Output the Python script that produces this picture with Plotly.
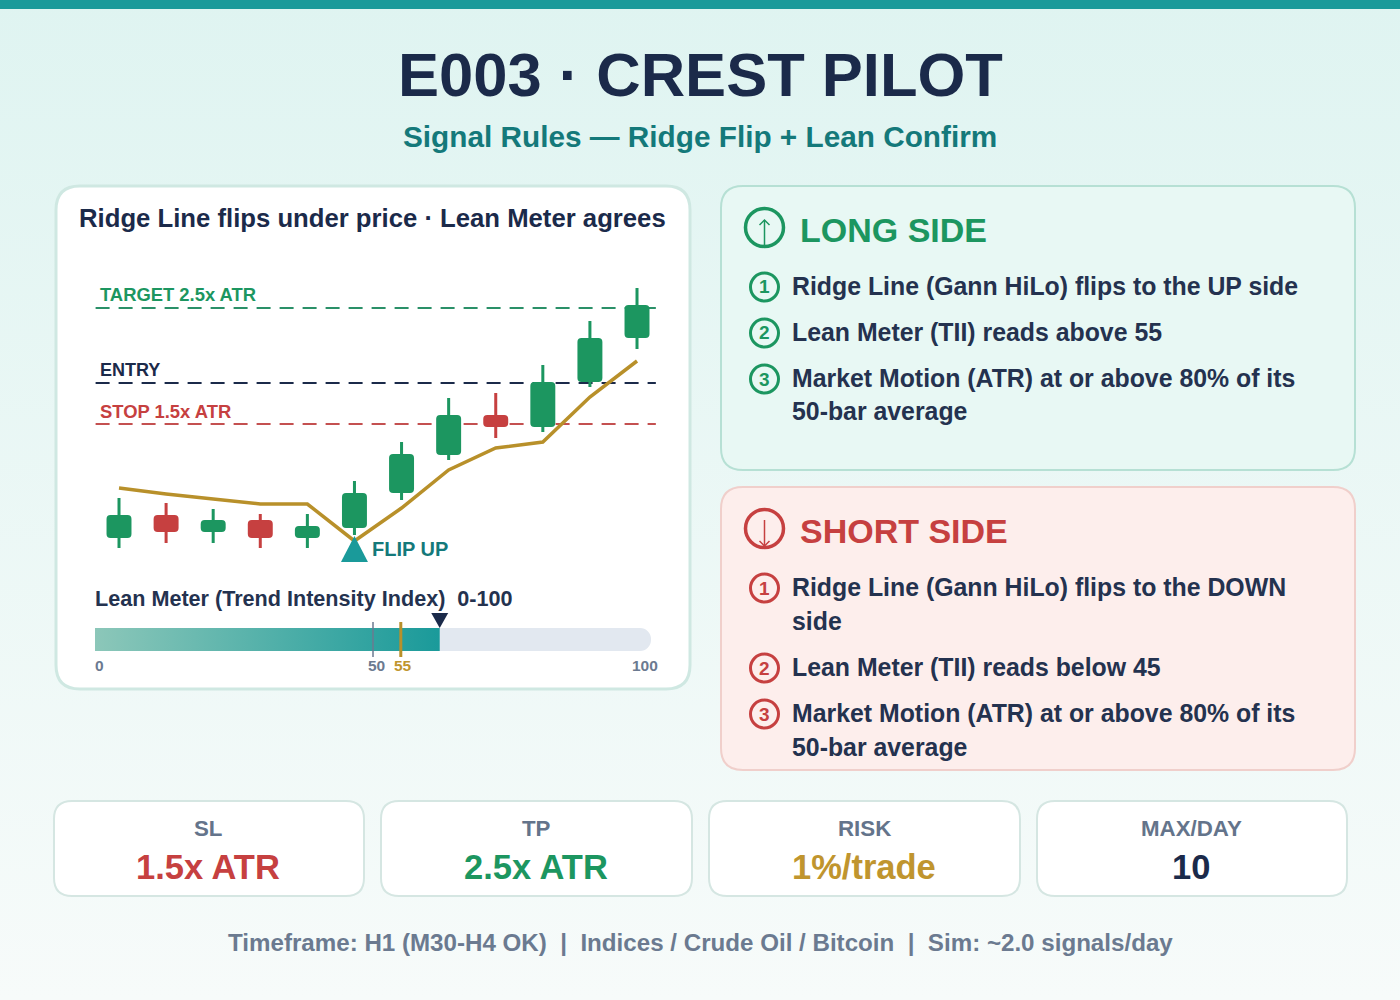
#!/usr/bin/env python3
# -*- coding: utf-8 -*-
"""E003 Crest Pilot signal rules card, drawn on a 1400x1000 page."""
import plotly.graph_objects as go

WIDTH = 1400
HEIGHT = 1000

NAVY = "#1B2A4A"
INK = "#24324F"
GREEN = "#1C9660"
RED = "#C64040"
GOLD = "#B8902A"
TEAL = "#1A9A9A"
DEEP_TEAL = "#14797A"
GREY = "#6B7A90"
FONT = "Liberation Sans"

# candles
candle_idx = [0, 1, 2, 3, 4, 5, 6, 7, 8, 9, 10, 11]
opens = [62, 85, 68, 80, 62, 72, 107, 145, 185, 173, 218, 262]
closes = [85, 68, 80, 62, 74, 107, 146, 185, 173, 218, 262, 295]
highs = [102, 97, 91, 86, 86, 119, 158, 202, 207, 235, 279, 312]
lows = [52, 57, 57, 52, 52, 65, 100, 140, 162, 168, 213, 251]
ridge_line = [112, 106, 101, 96, 96, 59, 92, 130, 152, 158, 203, 239]

# price levels
target_level = 292
entry_level = 217
stop_level = 176
flip_idx = 5
flip_price = 64

# lean meter
meter_value = 62
meter_max = 100
meter_ticks = [0, 50, 55, 100]
meter_tick_labels = ["0", "50", "55", "100"]

# text
long_rules = [
    ("1", ["Ridge Line (Gann HiLo) flips to the UP side"]),
    ("2", ["Lean Meter (TII) reads above 55"]),
    ("3", ["Market Motion (ATR) at or above 80% of its", "50-bar average"]),
]
short_rules = [
    ("1", ["Ridge Line (Gann HiLo) flips to the DOWN", "side"]),
    ("2", ["Lean Meter (TII) reads below 45"]),
    ("3", ["Market Motion (ATR) at or above 80% of its", "50-bar average"]),
]
stat_labels = ["SL", "TP", "RISK", "MAX/DAY"]
stat_values = ["1.5x ATR", "2.5x ATR", "1%/trade", "10"]
stat_colors = [RED, GREEN, "#C0952E", NAVY]


def px_x(v):
    return v / WIDTH


def px_y(v):
    return 1 - v / HEIGHT


def round_rect(x0, y0, x1, y1, r):
    """Rounded rectangle path on the page, from pixel corners."""
    pts = [
        ("M", x0 + r, y0), ("L", x1 - r, y0), ("Q", x1, y0, x1, y0 + r),
        ("L", x1, y1 - r), ("Q", x1, y1, x1 - r, y1), ("L", x0 + r, y1),
        ("Q", x0, y1, x0, y1 - r), ("L", x0, y0 + r), ("Q", x0, y0, x0 + r, y0),
    ]
    s = ""
    for p in pts:
        s += p[0]
        for k in range(1, len(p), 2):
            s += f" {px_x(p[k]):.5f},{px_y(p[k + 1]):.5f} "
    return s + "Z"


shapes = []
annotations = []


def card(x0, y0, x1, y1, r, fill, border, lw):
    shapes.append(dict(type="path", path=round_rect(x0, y0, x1, y1, r), xref="paper", yref="paper",
                       fillcolor=fill, line=dict(color=border, width=lw), layer="below"))


def ring(cx, cy, r, color, lw):
    shapes.append(dict(type="circle", xref="paper", yref="paper", x0=px_x(cx - r), x1=px_x(cx + r),
                       y0=px_y(cy + r), y1=px_y(cy - r), line=dict(color=color, width=lw), layer="above"))


def stroke(points, color, lw):
    path = "M " + " L ".join(f"{px_x(a):.5f},{px_y(b):.5f}" for a, b in points)
    shapes.append(dict(type="path", path=path, xref="paper", yref="paper", line=dict(color=color, width=lw),
                       layer="above"))


def text(x, y, s, size, color, anchor="left"):
    annotations.append(dict(x=px_x(x), y=px_y(y), xref="paper", yref="paper", text=s, showarrow=False,
                            xanchor=anchor, yanchor="middle", align=anchor, borderpad=0,
                            font=dict(family=FONT, size=size, color=color, weight=700)))


def rules(rows, color):
    for cy, number, line_ys, lines in rows:
        ring(764.5, cy, 14, color, 3)
        text(764.5, cy, number, 19, color, "center")
        for ly, s in zip(line_ys, lines):
            text(791, ly, s, 24.85, INK)


# page furniture
shapes.append(dict(type="rect", xref="paper", yref="paper", x0=0, x1=1, y0=px_y(9), y1=1, fillcolor=TEAL,
                   line=dict(width=0), layer="below"))
card(56, 186, 690, 689, 24, "#FFFFFF", "#CFE8E2", 3)
card(721, 186, 1355, 470, 22, "#E8F8F4", "#B6E0D4", 2)
card(721, 487, 1355, 770, 22, "#FDEEEC", "#F0CFCB", 2)
for left, right in [(54, 364), (381, 692), (709, 1020), (1037, 1347)]:
    card(left, 801, right, 896, 18, "#FFFFFF", "#D5E6E2", 2)

text(701, 75, "E003 · CREST PILOT", 61.5, NAVY, "center")
text(700, 136, "Signal Rules — Ridge Flip + Lean Confirm", 29.75, DEEP_TEAL, "center")
text(78, 218, "Ridge Line flips under price · Lean Meter agrees", 25.7, NAVY)

# long side
ring(764.5, 227.5, 19, GREEN, 3.5)
stroke([(764.5, 246), (764.5, 220)], GREEN, 1.5)
stroke([(759.5, 225), (764.5, 220), (769.5, 225)], GREEN, 1.5)
text(799, 230, "LONG SIDE", 34, GREEN)
rules([(287, long_rules[0][0], [286], long_rules[0][1]),
       (333, long_rules[1][0], [332], long_rules[1][1]),
       (379, long_rules[2][0], [378, 412], long_rules[2][1])], GREEN)

# short side
ring(764.5, 528.5, 19, RED, 3.5)
stroke([(764.5, 520), (764.5, 546)], RED, 1.5)
stroke([(759.5, 541), (764.5, 546), (769.5, 541)], RED, 1.5)
text(799, 531, "SHORT SIDE", 34, RED)
rules([(588, short_rules[0][0], [587, 621], short_rules[0][1]),
       (668, short_rules[1][0], [667], short_rules[1][1]),
       (714, short_rules[2][0], [713, 747], short_rules[2][1])], RED)

# stat cards
for cx, label, value, color in zip([208, 536, 864, 1191], stat_labels, stat_values, stat_colors):
    text(cx, 828, label, 22.3, "#64748B", "center")
    text(cx, 867, value, 34.5, color, "center")

text(700, 942, "Timeframe: H1 (M30-H4 OK)\u00a0\u00a0|\u00a0\u00a0Indices / Crude Oil / Bitcoin"
     "\u00a0\u00a0|\u00a0\u00a0Sim: ~2.0 signals/day", 24.15, GREY, "center")

# price level lines sit under the candles
for level, color in [(target_level, "#2A9068"), (entry_level, NAVY), (stop_level, "#C45050")]:
    shapes.append(dict(type="line", xref="x", yref="y", x0=-0.497, x1=11.4, y0=level, y1=level, layer="between",
                       line=dict(color=color, width=2, dash="14px,9px")))
text(99, 295, "TARGET 2.5x ATR", 18.4, GREEN)
text(99, 370, "ENTRY", 18, NAVY)
text(99, 412, "STOP 1.5x ATR", 18.4, RED)

shapes.append(dict(type="path", xref="x", yref="y", xsizemode="pixel", ysizemode="pixel", xanchor=flip_idx,
                   yanchor=flip_price, path="M -13.5 -26 L 13.5 -26 L 0 0 Z", fillcolor=TEAL, line=dict(width=0),
                   layer="above"))
text(371, 549, "FLIP UP", 20, DEEP_TEAL)

text(94, 598, "Lean Meter (Trend Intensity Index)\u00a0\u00a00-100", 21.6, INK)
shapes.append(dict(type="path", xref="x2", yref="y2", xsizemode="pixel", ysizemode="pixel", xanchor=meter_value,
                   yanchor=0.333, path="M -8.5 15 L 8.5 15 L 0 0 Z", fillcolor=NAVY, line=dict(width=0),
                   layer="above"))
for tick, label, x_pos in zip(meter_ticks, meter_tick_labels, [99, 376, 403, 645]):
    text(x_pos, 665, label, 15.5, "#C0952E" if tick == 55 else GREY, "center")

fig = go.Figure()

candle_colors = [GREEN if c > o else RED for o, c in zip(opens, closes)]
fig.add_trace(go.Bar(x=candle_idx, y=[h - l for h, l in zip(highs, lows)], base=lows, width=0.064,
                     marker=dict(color=candle_colors, line=dict(width=0))))
fig.add_trace(go.Bar(x=candle_idx, y=[abs(c - o) for o, c in zip(opens, closes)],
                     base=[min(o, c) for o, c in zip(opens, closes)], width=0.53,
                     marker=dict(color=candle_colors, line=dict(width=0), cornerradius=4)))
fig.add_trace(go.Scatter(x=candle_idx, y=ridge_line, mode="lines", line=dict(color=GOLD, width=3.5)))

# lean meter, on its own 0-100 axis
fig.add_trace(go.Bar(x=[meter_max], y=[0], orientation="h", width=0.667, xaxis="x2", yaxis="y2",
                     marker=dict(color="#E2E8F0", line=dict(width=0), cornerradius=11)))
fig.add_trace(go.Scatter(x=[0, meter_value, meter_value, 0, 0], y=[-0.333, -0.333, 0.333, 0.333, -0.333], xaxis="x2",
                         yaxis="y2", mode="lines", fill="toself", line=dict(width=0),
                         fillgradient=dict(type="horizontal", colorscale=[[0, "#8CC7B9"], [1, TEAL]])))
fig.add_trace(go.Scatter(x=[meter_ticks[1], meter_ticks[1]], y=[-0.507, 0.507], xaxis="x2", yaxis="y2", mode="lines",
                         line=dict(color=GREY, width=1.5)))
fig.add_trace(go.Scatter(x=[meter_ticks[2], meter_ticks[2]], y=[-0.507, 0.507], xaxis="x2", yaxis="y2", mode="lines",
                         line=dict(color=GOLD, width=3)))

hidden = dict(visible=False, fixedrange=True)
fig.update_layout(
    width=WIDTH,
    height=HEIGHT,
    margin=dict(l=0, r=0, t=0, b=0),
    paper_bgcolor="rgba(0,0,0,0)",
    plot_bgcolor="rgba(0,0,0,0)",
    showlegend=False,
    hovermode=False,
    barmode="overlay",
    xaxis=dict(domain=[px_x(60), px_x(680)], range=[-1.253, 11.913], **hidden),
    yaxis=dict(domain=[px_y(570), px_y(270)], range=[30, 330], **hidden),
    xaxis2=dict(domain=[px_x(95), px_x(651)], range=[0, meter_max], anchor="y2", **hidden),
    yaxis2=dict(domain=[px_y(674), px_y(605)], range=[-1, 1], anchor="x2", **hidden),
    shapes=shapes,
    annotations=annotations,
)

page_style = (
    "document.body.style.margin='0';"
    "document.body.style.background='linear-gradient(180deg,#DFF4F1 0%,#F7FBFA 100%)';"
    "document.body.style.minHeight='1000px';"
)
fig.write_html("out.html", config=dict(displayModeBar=False), post_script=page_style)
